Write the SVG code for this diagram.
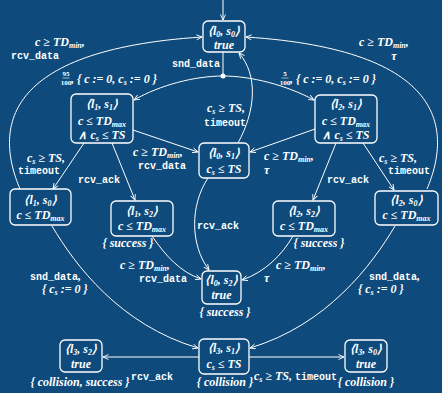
<svg xmlns="http://www.w3.org/2000/svg" width="442" height="393" viewBox="0 0 442 393">
<style>
.bg{fill:#0e4a7b}
.box{fill:none;stroke:#fff;stroke-width:1.3}
.e{fill:none;stroke:#fff;stroke-width:1;marker-end:url(#a)}
.l{fill:none;stroke:#fff;stroke-width:1}
text{fill:#fff}
.m{font-family:"Liberation Serif",serif;font-style:italic;font-weight:bold;font-size:12px}
.mc{font-family:"Liberation Serif",serif;font-style:italic;font-weight:bold;font-size:12px;text-anchor:middle}
.c{font-family:"Liberation Mono",monospace;font-size:10px;font-weight:bold;font-style:normal}
.s{font-size:8px}
.f{font-family:"Liberation Serif",serif;font-weight:bold;font-size:7px;text-anchor:middle}
</style>
<defs>
<marker id="a" markerWidth="8" markerHeight="8" refX="6" refY="3" orient="auto" markerUnits="userSpaceOnUse">
<path d="M0.5,0.5 L6,3 L0.5,5.5" fill="none" stroke="#fff" stroke-width="0.9"/>
</marker>
</defs>
<rect class="bg" x="0" y="0" width="442" height="393"/>

<g id="connectors">
<path class="e" d="M223,0 L223,20"/>
<path class="l" d="M223,52 L223,75"/>
<circle cx="223" cy="76" r="2.5" fill="#fff"/>
<path class="e" d="M223,76 C195,76 160,85 134,100"/>
<path class="e" d="M223,76 C251,76 286,85 314,100"/>
<path class="e" d="M133,130 L198,152"/>
<path class="e" d="M315,129 L250,152"/>
<path class="e" d="M84,143 L53,189"/>
<path class="e" d="M112,143 L135,200"/>
<path class="e" d="M336,143 L313,200"/>
<path class="e" d="M363,143 L394,190"/>
<path class="e" d="M238,143 C256,110 258,75 239,53"/>
<path class="e" d="M208,178 C190,205 190,245 209,270"/>
<path class="e" d="M152,236 C165,255 180,272 201,279"/>
<path class="e" d="M293,236 C282,255 265,272 242,280"/>
<path class="e" d="M52,226 C75,265 120,325 198,348"/>
<path class="e" d="M395,226 C372,265 327,325 250,348"/>
<path class="e" d="M199,357 L103,357"/>
<path class="e" d="M249,357 L344,357"/>
<path class="e" d="M20,189 C-5,130 0,50 202,37"/>
<path class="e" d="M427,189 C452,130 447,50 246,37"/>

<text class="m" x="35" y="46">c ≥ TD<tspan class="s" dy="2">min</tspan><tspan dy="-2">,</tspan></text>
<text class="c" x="11" y="59">rcv_data</text>
<text class="m" x="359" y="46">c ≥ TD<tspan class="s" dy="2">min</tspan><tspan dy="-2">,</tspan></text>
<text class="mc" x="394" y="60">τ</text>
<text class="c" x="220" y="67" text-anchor="end">snd_data</text>
<text class="f" x="66" y="76">95</text>
<line x1="62.5" y1="78" x2="69.5" y2="78" stroke="#fff" stroke-width="0.6"/>
<text class="f" x="66" y="85">100</text>
<text class="m" x="71" y="83">, { c := 0, c<tspan class="s" dy="2">s</tspan><tspan dy="-2"> := 0 }</tspan></text>
<text class="f" x="285" y="76">5</text>
<line x1="281.5" y1="78" x2="288.5" y2="78" stroke="#fff" stroke-width="0.6"/>
<text class="f" x="285" y="85">100</text>
<text class="m" x="290" y="83">, { c := 0, c<tspan class="s" dy="2">s</tspan><tspan dy="-2"> := 0 }</tspan></text>
<text class="m" x="133" y="156">c ≥ TD<tspan class="s" dy="2">min</tspan><tspan dy="-2">,</tspan></text>
<text class="c" x="138" y="169">rcv_data</text>
<text class="m" x="264" y="160">c ≥ TD<tspan class="s" dy="2">min</tspan><tspan dy="-2">,</tspan></text>
<text class="m" x="264" y="174">τ</text>
<text class="m" x="27" y="162">c<tspan class="s" dy="2">s</tspan><tspan dy="-2"> ≥ TS,</tspan></text>
<text class="c" x="18" y="174">timeout</text>
<text class="c" x="78" y="183">rcv_ack</text>
<text class="m" x="379" y="162">c<tspan class="s" dy="2">s</tspan><tspan dy="-2"> ≥ TS,</tspan></text>
<text class="c" x="388" y="174">timeout</text>
<text class="c" x="327" y="183">rcv_ack</text>
<text class="m" x="207" y="112">c<tspan class="s" dy="2">s</tspan><tspan dy="-2"> ≥ TS,</tspan></text>
<text class="c" x="204" y="126">timeout</text>
<text class="c" x="197" y="229">rcv_ack</text>
<text class="m" x="120" y="269">c ≥ TD<tspan class="s" dy="2">min</tspan><tspan dy="-2">,</tspan></text>
<text class="c" x="139" y="282">rcv_data</text>
<text class="m" x="276" y="269">c ≥ TD<tspan class="s" dy="2">min</tspan><tspan dy="-2">,</tspan></text>
<text class="m" x="264" y="282">τ</text>
<text class="c" x="30" y="280">snd_data<tspan class="m">,</tspan></text>
<text class="m" x="42" y="293">{ c<tspan class="s" dy="2">s</tspan><tspan dy="-2"> := 0 }</tspan></text>
<text class="c" x="369" y="280">snd_data<tspan class="m">,</tspan></text>
<text class="m" x="358" y="293">{ c<tspan class="s" dy="2">s</tspan><tspan dy="-2"> := 0 }</tspan></text>
<text class="c" x="131" y="380">rcv_ack</text>
<text class="m" x="254" y="380" font-size="11">c<tspan class="s" dy="2">s</tspan><tspan dy="-2"> ≥ TS, </tspan><tspan class="c">timeout</tspan></text>
</g>

<g id="l0s0">
<rect class="box" x="203" y="21" width="42" height="31" rx="5"/>
<text class="mc" x="224" y="35">⟨l<tspan class="s" dy="2">0</tspan><tspan dy="-2">, s</tspan><tspan class="s" dy="2">0</tspan><tspan dy="-2">⟩</tspan></text>
<text class="mc" x="224" y="49">true</text>
</g>
<g id="l1s1">
<rect class="box" x="71" y="94" width="62" height="49" rx="5"/>
<text class="mc" x="102" y="108">⟨l<tspan class="s" dy="2">1</tspan><tspan dy="-2">, s</tspan><tspan class="s" dy="2">1</tspan><tspan dy="-2">⟩</tspan></text>
<text class="mc" x="102" y="125">c ≤ TD<tspan class="s" dy="2">max</tspan></text>
<text class="mc" x="102" y="139">∧ c<tspan class="s" dy="2">s</tspan><tspan dy="-2"> ≤ TS</tspan></text>
</g>
<g id="l2s1">
<rect class="box" x="315" y="95" width="62" height="48" rx="5"/>
<text class="mc" x="346" y="108">⟨l<tspan class="s" dy="2">2</tspan><tspan dy="-2">, s</tspan><tspan class="s" dy="2">1</tspan><tspan dy="-2">⟩</tspan></text>
<text class="mc" x="346" y="125">c ≤ TD<tspan class="s" dy="2">max</tspan></text>
<text class="mc" x="346" y="139">∧ c<tspan class="s" dy="2">s</tspan><tspan dy="-2"> ≤ TS</tspan></text>
</g>
<g id="l0s1">
<rect class="box" x="199" y="143" width="50" height="35" rx="5"/>
<text class="mc" x="224" y="157">⟨l<tspan class="s" dy="2">0</tspan><tspan dy="-2">, s</tspan><tspan class="s" dy="2">1</tspan><tspan dy="-2">⟩</tspan></text>
<text class="mc" x="224" y="173">c<tspan class="s" dy="2">s</tspan><tspan dy="-2"> ≤ TS</tspan></text>
</g>
<g id="l1s0">
<rect class="box" x="10" y="189" width="61" height="36" rx="5"/>
<text class="mc" x="40.5" y="204">⟨l<tspan class="s" dy="2">1</tspan><tspan dy="-2">, s</tspan><tspan class="s" dy="2">0</tspan><tspan dy="-2">⟩</tspan></text>
<text class="mc" x="40.5" y="219">c ≤ TD<tspan class="s" dy="2">max</tspan></text>
</g>
<g id="l1s2">
<rect class="box" x="111" y="201" width="62" height="35" rx="5"/>
<text class="mc" x="142" y="215">⟨l<tspan class="s" dy="2">1</tspan><tspan dy="-2">, s</tspan><tspan class="s" dy="2">2</tspan><tspan dy="-2">⟩</tspan></text>
<text class="mc" x="142" y="230">c ≤ TD<tspan class="s" dy="2">max</tspan></text>
<text class="mc" x="128" y="247" font-size="11">{ success }</text>
</g>
<g id="l2s2">
<rect class="box" x="273" y="201" width="62" height="35" rx="5"/>
<text class="mc" x="304" y="215">⟨l<tspan class="s" dy="2">2</tspan><tspan dy="-2">, s</tspan><tspan class="s" dy="2">2</tspan><tspan dy="-2">⟩</tspan></text>
<text class="mc" x="304" y="230">c ≤ TD<tspan class="s" dy="2">max</tspan></text>
<text class="mc" x="319" y="247" font-size="11">{ success }</text>
</g>
<g id="l2s0">
<rect class="box" x="375" y="191" width="63" height="34" rx="5"/>
<text class="mc" x="406.5" y="204">⟨l<tspan class="s" dy="2">2</tspan><tspan dy="-2">, s</tspan><tspan class="s" dy="2">0</tspan><tspan dy="-2">⟩</tspan></text>
<text class="mc" x="406.5" y="219">c ≤ TD<tspan class="s" dy="2">max</tspan></text>
</g>
<g id="l0s2">
<rect class="box" x="202" y="271" width="39" height="33" rx="5"/>
<text class="mc" x="221.5" y="284">⟨l<tspan class="s" dy="2">0</tspan><tspan dy="-2">, s</tspan><tspan class="s" dy="2">2</tspan><tspan dy="-2">⟩</tspan></text>
<text class="mc" x="221.5" y="299">true</text>
<text class="mc" x="225" y="316" font-size="11">{ success }</text>
</g>
<g id="l3s1">
<rect class="box" x="199" y="339" width="50" height="35" rx="5"/>
<text class="mc" x="224" y="352">⟨l<tspan class="s" dy="2">3</tspan><tspan dy="-2">, s</tspan><tspan class="s" dy="2">1</tspan><tspan dy="-2">⟩</tspan></text>
<text class="mc" x="224" y="368">c<tspan class="s" dy="2">s</tspan><tspan dy="-2"> ≤ TS</tspan></text>
<text class="mc" x="225" y="386" font-size="11">{ collision }</text>
</g>
<g id="l3s2">
<rect class="box" x="60" y="340" width="42" height="32" rx="5"/>
<text class="mc" x="81" y="353">⟨l<tspan class="s" dy="2">3</tspan><tspan dy="-2">, s</tspan><tspan class="s" dy="2">2</tspan><tspan dy="-2">⟩</tspan></text>
<text class="mc" x="81" y="368">true</text>
<text class="mc" x="80" y="386" font-size="10.5">{ collision, success }</text>
</g>
<g id="l3s0">
<rect class="box" x="345" y="340" width="42" height="32" rx="5"/>
<text class="mc" x="366" y="353">⟨l<tspan class="s" dy="2">3</tspan><tspan dy="-2">, s</tspan><tspan class="s" dy="2">0</tspan><tspan dy="-2">⟩</tspan></text>
<text class="mc" x="366" y="368">true</text>
<text class="mc" x="366" y="386" font-size="11">{ collision }</text>
</g>
</svg>
